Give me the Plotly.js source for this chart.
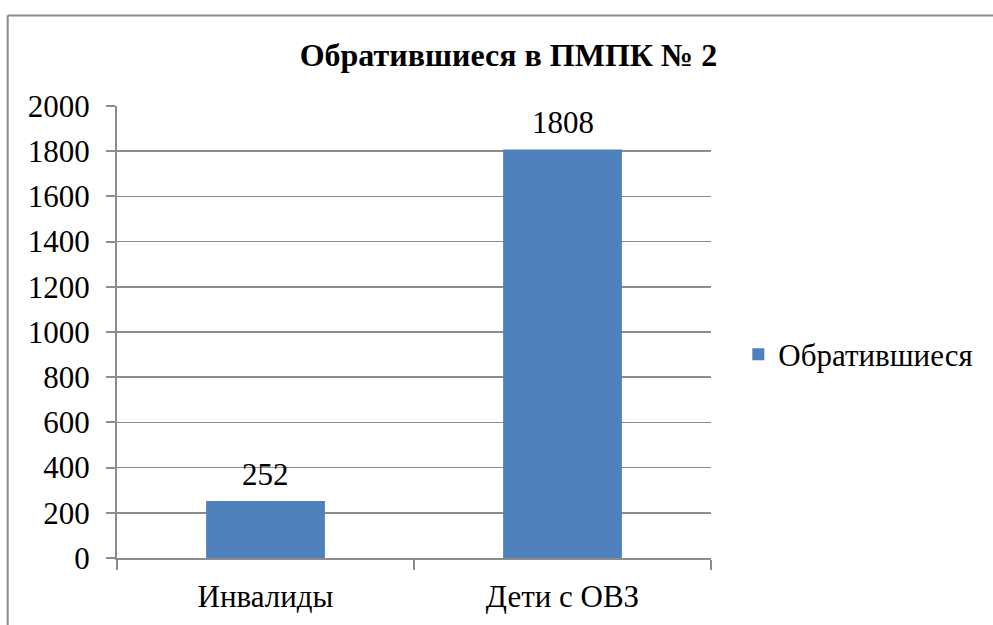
<!DOCTYPE html>
<html>
<head>
<meta charset="utf-8">
<script src="https://cdn.plot.ly/plotly-3.0.1.min.js"></script>
<style>
  html, body { margin: 0; padding: 0; background: #fff; overflow: hidden; }
  #chart { width: 993px; height: 625px; }
</style>
</head>
<body>
<div id="chart"></div>
<script>
const categories = ["Инвалиды", "Дети с ОВЗ"];
const values = [252, 1808];
const seriesName = "Обратившиеся";
const chartTitle = "Обратившиеся в ПМПК № 2";

const serif = "Liberation Serif";

const trace = {
  type: "bar",
  x: categories,
  y: values,
  name: seriesName,
  marker: { color: "#4f81bd" },
  showlegend: true
};

const labels = categories.map((c, i) => ({
  x: c, y: values[i], xref: "x", yref: "y",
  text: String(values[i]), showarrow: false,
  yanchor: "bottom", yshift: 7,
  font: { family: serif, size: 31, color: "#000" }
}));

const layout = {
  width: 993,
  height: 625,
  margin: { l: 117, r: 282, t: 106, b: 67, autoexpand: false },
  paper_bgcolor: "#fff",
  plot_bgcolor: "#fff",
  bargap: 0.6,
  title: {
    text: "<b>" + chartTitle + "</b>",
    font: { family: serif, size: 32, color: "#000" },
    x: 0.512, xanchor: "center", y: 0.912, yanchor: "middle"
  },
  font: { family: serif, color: "#000", size: 31 },
  xaxis: {
    type: "category",
    showline: true, linecolor: "#8c8c8c", linewidth: 2,
    ticks: "outside", tickson: "boundaries", ticklen: 10, tickcolor: "#8c8c8c", tickwidth: 2,
    tickfont: { family: serif, size: 31, color: "#000" },
    showgrid: false, zeroline: false, fixedrange: true, ticklabelstandoff: 10
  },
  yaxis: {
    range: [0, 2000], dtick: 200, tick0: 0,
    showline: true, linecolor: "#8c8c8c", linewidth: 2,
    ticks: "outside", ticklen: 9, tickcolor: "#8c8c8c", tickwidth: 2,
    tickfont: { family: serif, size: 31, color: "#000" },
    showgrid: true, gridcolor: "#8c8c8c", gridwidth: 1.5,
    zeroline: false, fixedrange: true, ticklabelstandoff: 10
  },
  showlegend: true,
  legend: {
    x: 1.046, xanchor: "left", y: 0.45, yanchor: "middle",
    font: { family: serif, size: 31, color: "#000" },
    itemwidth: 30, bgcolor: "rgba(0,0,0,0)"
  },
  annotations: labels,
  shapes: [
    { type: "line", xref: "paper", yref: "paper", x0: -0.184, x1: 1.5, y0: 1.2, y1: 1.2,
      line: { color: "#8c8c8c", width: 2 } },
    { type: "line", xref: "paper", yref: "paper", x0: -0.184, x1: -0.184, y0: 1.2, y1: -0.5,
      line: { color: "#8c8c8c", width: 2 } }
  ]
};

Plotly.newPlot("chart", [trace], layout, { displayModeBar: false, staticPlot: true });
</script>
</body>
</html>
